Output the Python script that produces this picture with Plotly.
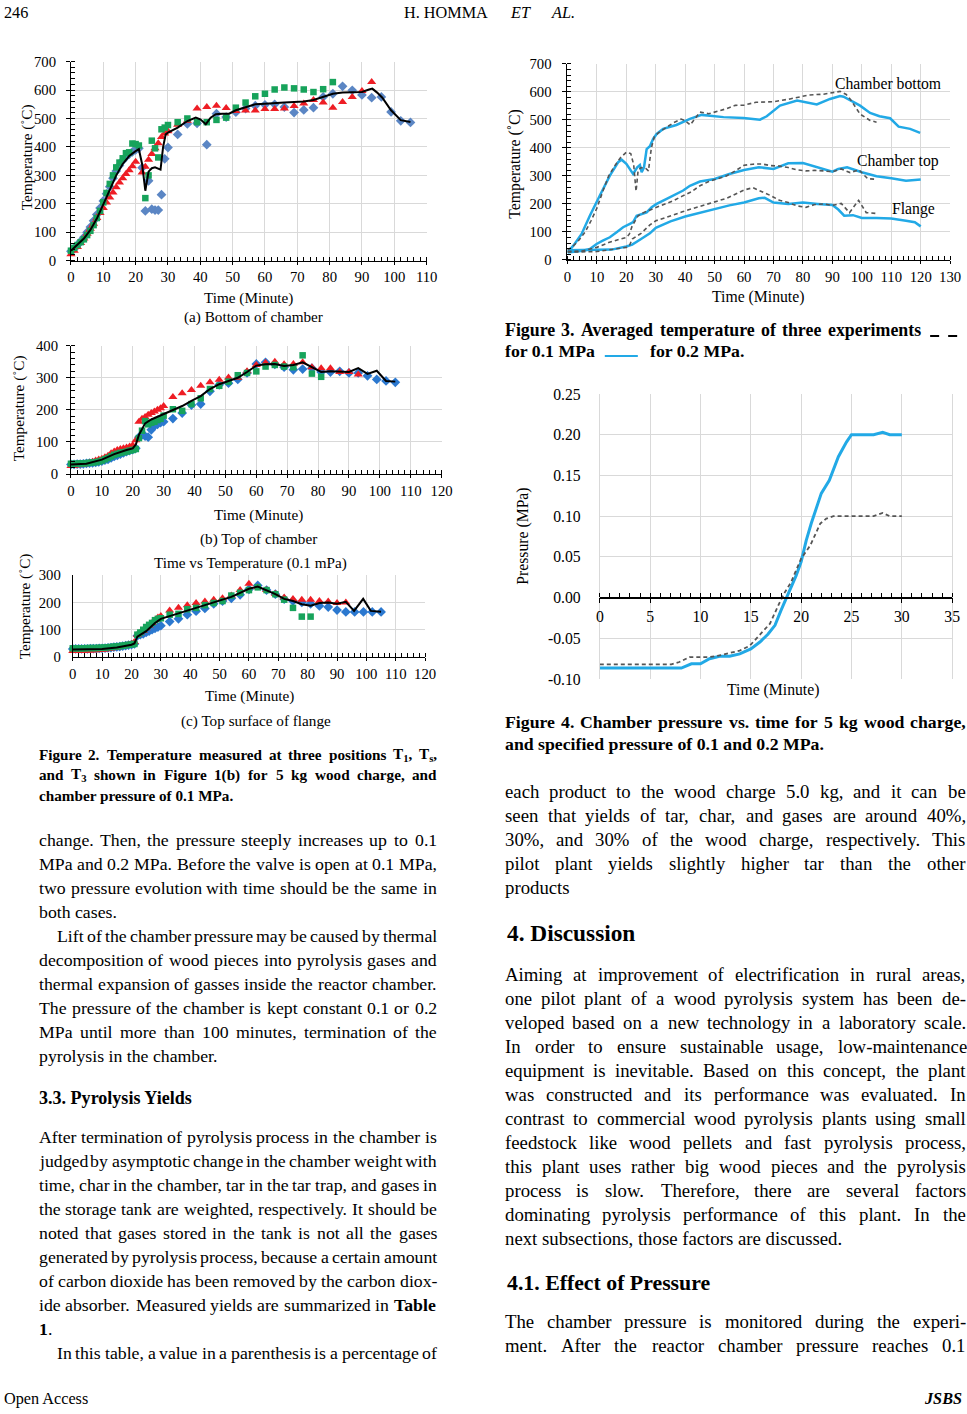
import re
import plotly.graph_objects as go

# ---------------- DATA ----------------
# Figure 2(a) bottom of chamber
a_blue_t = list(range(0, 31)) + list(range(33, 106, 3))
a_blue_v = [33,42,55,68,82,100,118,140,162,185,210,235,260,290,315,335,352,365,375,383,390,395,327,175,281,181,178,178,232,358,398,
            444,481,483,408,517,505,522,535,545,548,550,540,521,530,538,576,587,613,599,583,573,576,523,492,486]
a_red_t = list(range(0, 21)) + list(range(22, 31)) + list(range(33, 94, 3))
a_red_v = [23,35,48,62,78,95,112,130,150,168,185,205,222,240,258,275,290,305,318,332,348,
           310,330,355,375,395,413,435,447,455,
           478,492,535,540,545,537,526,528,528,533,533,535,544,553,565,556,538,558,576,597,628]
a_green_t = list(range(0, 22)) + list(range(23, 31)) + list(range(33, 82, 3))
a_green_v = [35,45,55,65,75,90,105,125,150,175,205,238,270,300,328,345,360,378,381,412,410,405,
             220,300,422,395,363,462,468,477,
             487,500,487,487,495,503,538,556,578,587,602,609,606,602,593,603,628]
a_avg_t = [0,2,4,6,8,10,12,14,16,18,20,21,22,23,24,25,26,27,27.7,28.5,29.3,30,33,36,38.6,40,41.7,43.2,44.8,46.8,48.9,51,53.5,
           57,60,63,66,69,72,75,78,81,84,87,90,92.2,93.2,94.7,96.3,99,102,105]
a_avg_v = [35,55,78,108,148,198,252,300,340,368,385,392,340,246,313,325,328,322,320,400,444,450,468,491,503,497,480,503,515,517,517,529,538,
           550,552,553,556,558,560,565,576,587,591,591,593,602,605,591,573,529,494,488]

# Figure 2(b) top of chamber
b_blue_t = list(range(0, 31)) + list(range(33, 106, 3))
b_blue_v = [30,30,31,31,32,33,34,35,36,38,40,43,46,50,55,58,62,66,70,73,76,80,
            115,122,118,115,138,150,155,160,163,
            173,190,215,218,258,278,283,295,315,343,348,342,333,325,327,330,318,318,320,315,315,306,295,290,286]
b_red_t = list(range(0, 31)) + list(range(33, 94, 3))
b_red_v = [25,26,27,28,30,32,35,38,42,45,48,52,57,65,70,75,78,80,83,86,90,105,
           163,172,178,185,190,195,200,205,212,
           240,252,262,275,286,294,301,300,320,340,347,350,342,343,348,333,330,330,318,318,310]
b_green_t = list(range(0, 31)) + list(range(33, 82, 3))
b_green_v = [32,32,32,33,33,34,35,36,37,39,42,46,50,55,60,63,66,68,70,73,75,78,
             112,135,165,155,160,163,168,172,182,
             202,197,218,236,265,275,288,308,315,320,335,340,335,333,370,313,303]
b_avg_t = [0,5,10,14,18,20,21,22,23,24,26,28,30] + list(range(33, 106, 3))
b_avg_v = [30,32,45,62,75,80,92,122,140,158,170,178,188,
           200,212,228,243,265,280,290,300,318,338,342,343,337,340,348,332,318,320,318,318,330,312,322,290,288]

# Figure 2(c) top surface of flange
c_blue_t = list(range(0, 31)) + list(range(33, 106, 3))
c_blue_v = [30,30,30,30,30,30,31,31,31,32,32,33,34,35,36,37,38,40,42,44,46,48,
            78,82,85,90,95,100,105,110,115,
            130,140,155,168,178,195,205,215,228,248,262,245,230,212,205,200,195,187,183,172,165,165,165,165,165]
c_red_t = list(range(0, 31)) + list(range(33, 94, 3))
c_red_v = [22,22,23,23,23,24,24,25,25,26,27,28,30,31,33,35,37,40,42,45,48,55,
           82,90,95,105,115,125,135,145,150,
           170,180,190,198,203,210,215,225,245,268,255,245,232,218,212,210,210,205,203,198,200]
c_green_t = list(range(0, 31)) + list(range(33, 82, 3))
c_green_v = [32,32,32,32,32,33,33,33,33,34,34,35,36,37,38,39,40,42,43,45,46,48,
             82,90,100,110,118,125,135,140,142,
             155,158,175,180,190,198,205,225,235,245,255,245,230,210,180,148,148]
c_avg_t = [0,5,10,15,18,20,21,22,25,28,30] + list(range(33, 94, 3)) + [95.8,98.9,101.5,105]
c_avg_v = [28,29,30,35,40,45,50,75,95,125,140,
           150,162,172,182,192,200,210,220,235,250,258,245,230,213,205,193,188,198,200,195,202,
           169,213,169,166]

# Figure 3 averaged temperature (0.1 MPa dashed, 0.2 MPa solid)
f3_bot02_t = [0,2,4.8,7.6,11,14.4,17.2,18.4,20,22.3,23.7,24.6,25.2,26,26.9,28,29.1,30.3,32.5,37,41.6,45.6,48.4,53,59.8,65.4,67.7,72.2,78,82.4,
              84.7,89.2,92.6,93.8,96,99.4,102.8,106,109.6,112.5,116.4,119.8]
f3_bot02_v = [27,51,93,158,230,301,349,358,343,307,331,339,313,331,396,406,432,450,468,482,504,518,515,510,507,501,513,551,569,561,
              555,575,585,583,571,551,525,513,506,476,468,454]
f3_bot01_t = [0,2,4,6,8,10,12,14,16,18,20,21.5,22.5,23.3,24,25,26.5,27.5,28.5,29.5,31,33,36,38.6,40,41.7,43.2,45,48,51,
              54,57,60,64,70,75.6,82,87,92.6,94.7,96,99.4,102.8,105]
f3_bot01_v = [35,50,72,100,140,185,245,300,335,365,385,380,340,245,320,330,328,318,400,440,455,468,490,503,497,482,503,528,522,530,
              540,552,553,563,565,575,589,592,602,591,575,521,498,492]
f3_top02_t = [0,5.3,7.6,9.9,12,14.4,16.7,18.9,21.2,22.3,23.5,25.2,26.9,28.6,30.3,33.7,37,39.3,41.6,45,
              50,55,60,65,70,75,80,85,90,92,95,100,105,110,115,120]
f3_top02_v = [27,33,39,57,69,81,99,117,129,135,158,164,170,188,200,218,236,248,265,280,
              289,307,321,331,325,345,346,331,315,325,331,313,299,292,283,287]
f3_top01_t = [0,5,10,14,18,20,21,22,23,24,26,28,30] + list(range(33, 106, 3))
f3_top01_v = [30,32,45,62,75,80,92,122,140,158,170,178,188,
              200,212,228,243,265,280,290,300,318,338,342,343,337,335,330,322,318,320,318,315,325,312,322,290,288]
f3_fl02_t = [0,5,10,15,20,22,25,28,30,35,40,45,50,55,60,65,67,70,75,80,85,90,92,94,97,100,105,110,115,118,120]
f3_fl02_v = [35,35,36,37,48,55,75,95,115,138,155,168,182,195,205,220,222,205,200,205,200,196,180,158,160,150,150,148,140,135,120]
f3_fl01_t = [0,10,20,21,22,25,28,30] + list(range(33, 94, 3)) + [95.8,98.9,101.5,105]
f3_fl01_v = [28,30,45,50,75,95,125,140,
             150,162,172,182,192,200,210,220,235,250,258,245,230,213,205,193,188,198,200,195,202,
             169,213,169,166]

# Figure 4 chamber pressure
f4_02_t = [0,8.1,9.1,10,10.9,11.9,12.9,13.9,15,15.9,16.7,17.4,18,18.5,19,19.5,20,20.5,21,21.5,22,22.8,23.7,24.5,25,27.2,28.1,28.8,30]
f4_02_v = [-0.0865,-0.0865,-0.0812,-0.0812,-0.075,-0.072,-0.072,-0.069,-0.063,-0.0545,-0.045,-0.034,-0.0156,-0.0012,0.011,0.027,0.044,
           0.070,0.091,0.109,0.128,0.144,0.173,0.191,0.200,0.200,0.203,0.200,0.200]
f4_01_t = [0,7.1,7.9,8.9,9.9,10.9,11.9,12.9,13.9,14.9,15.9,16.9,17.9,18.4,19,20,20.9,21.4,21.9,22.5,23.2,27.2,28.1,28.8,30]
f4_01_v = [-0.082,-0.082,-0.079,-0.073,-0.073,-0.073,-0.071,-0.068,-0.065,-0.059,-0.046,-0.032,-0.005,0.007,0.019,0.048,0.064,
           0.077,0.091,0.097,0.100,0.100,0.104,0.100,0.100]
f4_ytickvals = [-0.10, -0.05, 0.00, 0.05, 0.10, 0.15, 0.20, 0.25]
f4_yticktext = ["-0.10", "-0.05", "0.00", "0.05", "0.10", "0.15", "0.20", "0.25"]

# ---------------- TEXT ----------------
header_left = "246"
fig2_caption = ["Figure 2. Temperature measured at three positions T<sub>1</sub>, T<sub>s</sub>,",
                "and T<sub>3</sub> shown in Figure 1(b) for 5 kg wood charge, and",
                "chamber pressure of 0.1 MPa."]
left_par1 = ["change. Then, the pressure steeply increases up to 0.1",
             "MPa and 0.2 MPa. Before the valve is open at 0.1 MPa,",
             "two pressure evolution with time should be the same in",
             "both cases."]
left_par2 = ["Lift of the chamber pressure may be caused by thermal",
             "decomposition of wood pieces into pyrolysis gases and",
             "thermal expansion of gasses inside the reactor chamber.",
             "The pressure of the chamber is kept constant 0.1 or 0.2",
             "MPa until more than 100 minutes, termination of the",
             "pyrolysis in the chamber."]
left_head = "3.3. Pyrolysis Yields"
left_par3 = ["After termination of pyrolysis process in the chamber is",
             "judged by asymptotic change in the chamber weight with",
             "time, char in the chamber, tar in the tar trap, and gases in",
             "the storage tank are weighted, respectively. It should be",
             "noted that gases stored in the tank is not all the gases",
             "generated by pyrolysis process, because a certain amount",
             "of carbon dioxide has been removed by the carbon diox-",
             "ide absorber. Measured yields are summarized in <b>Table</b>",
             "<b>1</b>."]
left_par4 = ["In this table, a value in a parenthesis is a percentage of"]
fig3_caption = ["Figure 3. Averaged temperature of three experiments", "for 0.1 MPa", "for 0.2 MPa."]
fig4_caption = ["Figure 4. Chamber pressure vs. time for 5 kg wood charge,",
                "and specified pressure of 0.1 and 0.2 MPa."]
right_par1 = ["each product to the wood charge 5.0 kg, and it can be",
              "seen that yields of tar, char, and gases are around 40%,",
              "30%, and 30% of the wood charge, respectively. This",
              "pilot plant yields slightly higher tar than the other",
              "products"]
right_head1 = "4. Discussion"
right_par2 = ["Aiming at improvement of electrification in rural areas,",
              "one pilot plant of a wood pyrolysis system has been de-",
              "veloped based on a new technology in a laboratory scale.",
              "In order to ensure sustainable usage, low-maintenance",
              "equipment is inevitable. Based on this concept, the plant",
              "was constructed and its performance was evaluated. In",
              "contrast to commercial wood pyrolysis plants using small",
              "feedstock like wood pellets and fast pyrolysis process,",
              "this plant uses rather big wood pieces and the pyrolysis",
              "process is slow. Therefore, there are several factors",
              "dominating pyrolysis performance of this plant. In the",
              "next subsections, those factors are discussed."]
right_head2 = "4.1. Effect of Pressure"
right_par3 = ["The chamber pressure is monitored during the experi-",
              "ment. After the reactor chamber pressure reaches 0.1"]

# ---------------- PAGE GEOMETRY ----------------
W, H = 967, 1414
# measured photo mapping: photo = A + S * page
AXX, SXX = 4.8, 0.9835
AYY, SYY = 9.1, 0.9877
SF = 0.5 * (SXX + SYY)
SERIF = "Liberation Serif"


def px(x):
    return ((x - AXX) / SXX) / W


def py(y):
    return 1 - ((y - AYY) / SYY) / H


def fs(size):
    return size / SF


# Times metrics (1/1000 em) used to justify text lines
TR = {' ': 250, '!': 333, '%': 833, '(': 333, ')': 333, ',': 250, '-': 333, '.': 250, '/': 278, ':': 278, ';': 278, '?': 444}
TB = {' ': 250, '!': 333, '%': 1000, '(': 333, ')': 333, ',': 250, '-': 333, '.': 250, '/': 278, ':': 333, ';': 333, '?': 500}
for c in '0123456789':
    TR[c] = 500
    TB[c] = 500
TR.update(dict(zip('ABCDEFGHIJKLMNOPQRSTUVWXYZ', [722,667,667,722,611,556,722,722,333,389,722,611,889,722,722,556,722,667,556,611,722,722,944,722,722,611])))
TR.update(dict(zip('abcdefghijklmnopqrstuvwxyz', [444,500,444,500,444,333,500,500,278,278,500,278,778,500,500,500,500,333,389,278,500,500,722,500,500,444])))
TB.update(dict(zip('ABCDEFGHIJKLMNOPQRSTUVWXYZ', [722,667,722,722,667,611,778,778,389,500,778,667,944,722,778,611,778,722,556,667,722,722,1000,722,722,667])))
TB.update(dict(zip('abcdefghijklmnopqrstuvwxyz', [500,556,444,556,444,333,500,556,278,333,556,278,833,556,500,556,556,444,389,333,556,500,722,500,500,444])))


def word_w(word, size, bold=False):
    total = 0.0
    b = bold
    sub = False
    for tok in re.split(r'(<[^>]+>)', word):
        if tok == '<b>':
            b = True
        elif tok == '</b>':
            b = bold
        elif tok == '<sub>':
            sub = True
        elif tok == '</sub>':
            sub = False
        elif tok.startswith('<'):
            continue
        else:
            tab = TB if b else TR
            for ch in tok:
                total += tab.get(ch, 500) * (0.7 if sub else 1.0)
    return total * size / 1000.0


ANN = []


def ann(text, x, y, size, bold=False, italic=False, anchor='left', angle=0, color='black'):
    t = text
    if bold:
        t = '<b>' + t + '</b>'
    if italic:
        t = '<i>' + t + '</i>'
    ANN.append(dict(text=t, x=px(x), y=py(y), xref='paper', yref='paper', xanchor=anchor, yanchor='middle',
                    showarrow=False, textangle=angle, borderpad=0, borderwidth=0,
                    font=dict(family=SERIF, size=fs(size), color=color)))


def put_line(text, x0, x1, y, size, bold=False, justify=True):
    words = text.split(' ')
    if justify and len(words) > 1:
        ws = [word_w(w, size, bold) for w in words]
        gap = (x1 - x0 - sum(ws)) / (len(words) - 1)
        x = x0
        for w, wd in zip(words, ws):
            ann(w, x, y, size, bold)
            x += wd + gap
    else:
        ann(text, x0, y, size, bold)


def put_par(lines, x0, x1, y0, size, step, indent=0, bold=False, last_justify=False):
    for i, ln in enumerate(lines):
        last = (i == len(lines) - 1)
        xs = x0 + (indent if i == 0 else 0)
        put_line(ln, xs, x1, y0 + i * step, size, bold, justify=(not last) or last_justify)


# ---------------- FIGURE ----------------
fig = go.Figure()

BLUE_A = '#5b86c4'
BLUE_BC = '#2b78cf'
RED = '#ee1d24'
GREEN = '#17a35b'
LBLUE = '#22a9e6'
DGRAY = '#555555'


def add_pts(t, v, ax, symbol, color, size):
    fig.add_trace(go.Scatter(x=t, y=v, xaxis='x' + ax, yaxis='y' + ax, mode='markers', cliponaxis=False,
                             marker=dict(symbol=symbol, color=color, size=size, line=dict(width=0)),
                             showlegend=False, hoverinfo='skip'))


def add_line(t, v, ax, color, width, dash='solid'):
    fig.add_trace(go.Scatter(x=t, y=v, xaxis='x' + ax, yaxis='y' + ax, mode='lines', cliponaxis=False,
                             line=dict(color=color, width=width, dash=dash),
                             showlegend=False, hoverinfo='skip'))


# (a)
add_pts(a_blue_t, a_blue_v, '', 'diamond', BLUE_A, 7.5)
add_pts(a_red_t, a_red_v, '', 'triangle-up', RED, 8)
add_pts(a_green_t, a_green_v, '', 'square', GREEN, 6.5)
add_line(a_avg_t, a_avg_v, '', 'black', 2)
# (b)
add_pts(b_blue_t, b_blue_v, '2', 'diamond', BLUE_BC, 7.5)
add_pts(b_red_t, b_red_v, '2', 'triangle-up', RED, 8)
add_pts(b_green_t, b_green_v, '2', 'square', GREEN, 6.5)
add_line(b_avg_t, b_avg_v, '2', 'black', 2)
# (c)
add_pts(c_blue_t, c_blue_v, '3', 'diamond', BLUE_BC, 7.5)
add_pts(c_red_t, c_red_v, '3', 'triangle-up', RED, 8)
add_pts(c_green_t, c_green_v, '3', 'square', GREEN, 6.5)
add_line(c_avg_t, c_avg_v, '3', 'black', 2)
# Figure 3
DASH = '4px,3px'
add_line(f3_bot02_t, f3_bot02_v, '4', LBLUE, 2.5)
add_line(f3_top02_t, f3_top02_v, '4', LBLUE, 2.5)
add_line(f3_fl02_t, f3_fl02_v, '4', LBLUE, 2.5)
add_line(f3_bot01_t, f3_bot01_v, '4', DGRAY, 1.6, DASH)
add_line(f3_top01_t, f3_top01_v, '4', DGRAY, 1.6, DASH)
add_line(f3_fl01_t, f3_fl01_v, '4', DGRAY, 1.6, DASH)
# Figure 4
add_line(f4_02_t, f4_02_v, '5', LBLUE, 3)
add_line(f4_01_t, f4_01_v, '5', DGRAY, 1.8, DASH)

TICKF = dict(family=SERIF, size=fs(14.5), color='black')
GRID = '#d9d9d9'


def xaxis(l, r, rng, dtick, minor, anchor, **kw):
    d = dict(domain=[px(l), px(r)], range=rng, dtick=dtick, tick0=0, anchor=anchor, showgrid=True, gridcolor=GRID,
             zeroline=False, showline=True, linecolor='black', linewidth=1, ticks='outside', ticklen=3,
             tickcolor='black', tickfont=TICKF, fixedrange=True)
    if minor:
        d['minor'] = dict(dtick=minor, ticks='inside', ticklen=4, tickcolor='black', showgrid=False)
    d.update(kw)
    return d


def yaxis(b, t, rng, dtick, minor, anchor, **kw):
    d = dict(domain=[py(b), py(t)], range=rng, dtick=dtick, tick0=0, anchor=anchor, showgrid=True, gridcolor=GRID,
             zeroline=False, showline=True, linecolor='black', linewidth=1, ticks='outside', ticklen=4,
             tickcolor='black', tickfont=TICKF, ticklabelstandoff=6, fixedrange=True)
    if minor:
        d['minor'] = dict(dtick=minor, ticks='inside', ticklen=4, tickcolor='black', showgrid=False)
    d.update(kw)
    return d


layout_axes = dict(
    xaxis=xaxis(71.7, 427, [0, 110], 10, 2, 'y'),
    yaxis=yaxis(261.7, 62.7, [0, 700], 100, 20, 'x', ticklabelstandoff=7),
    xaxis2=xaxis(71.7, 442, [0, 120], 10, 2, 'y2'),
    yaxis2=yaxis(475, 346.7, [0, 400], 100, 20, 'x2', ticklabelstandoff=5),
    xaxis3=xaxis(73.5, 425.5, [0, 120], 10, 2, 'y3'),
    yaxis3=yaxis(658, 576, [0, 300], 100, None, 'x3', ticks='', ticklabelstandoff=8),
    xaxis4=xaxis(567.7, 950, [0, 130], 10, 2, 'y4'),
    yaxis4=yaxis(261, 65, [0, 700], 100, 20, 'x4', ticklabelstandoff=8),
    xaxis5=xaxis(600, 952, [0, 35], 5, 1, 'free', position=py(598.5), linewidth=1.5,
                 ticks='outside', ticklen=5, tickfont=dict(family=SERIF, size=fs(15.5), color='black')),
    yaxis5=yaxis(680, 395, [-0.10, 0.25], None, None, 'x5', tickvals=f4_ytickvals, ticktext=f4_yticktext,
                 showline=True, linecolor=GRID, mirror=True, ticks='', ticklabelstandoff=15,
                 tickfont=dict(family=SERIF, size=fs(15.5), color='black')),
)

# ---- chart texts ----
AX = 15
ann("Time (Minute)", 249, 299, AX, anchor='center')
ann("(a) Bottom of chamber", 254, 318, AX, anchor='center')
ann("Temperature (˚C)", 28, 158, AX, anchor='center', angle=-90)
ann("Time (Minute)", 259, 516, AX, anchor='center')
ann("(b) Top of chamber", 259, 540, AX, anchor='center')
ann("Temperature (˚C)", 20, 409, AX, anchor='center', angle=-90)
ann("Time vs Temperature (0.1 mPa)", 251, 564, AX, anchor='center')
ann("Time (Minute)", 250, 697, AX, anchor='center')
ann("(c) Top surface of flange", 257, 722, AX, anchor='center')
ann("Temperature (˚C)", 26, 607, AX, anchor='center', angle=-90)
ann("Time (Minute)", 758, 298, 15.5, anchor='center')
ann("Temperature (˚C)", 515, 165, 15.5, anchor='center', angle=-90)
ann("Chamber bottom", 888, 85, 15.5, anchor='center')
ann("Chamber top", 898, 162, 15.5, anchor='center')
ann("Flange", 913, 210, 15.5, anchor='center')
ann("Time (Minute)", 773, 691, 15.5, anchor='center')
ann("Pressure (MPa)", 523, 537, 15.5, anchor='center', angle=-90)

# ---- header / footer ----
ann(header_left, 5, 14, 16)
ann("H. HOMMA", 446, 14, 16, anchor='center')
ann("ET", 521, 14, 16, italic=True, anchor='center')
ann("AL.", 563, 14, 16, italic=True, anchor='center')
ann("Open Access", 5, 1400, 16)
ann("JSBS", 962, 1400, 16, bold=True, italic=True, anchor='right')

# ---- left column ----
LX0, LX1 = 39.5, 437
RX0, RX1 = 505, 965
put_par(fig2_caption, LX0, LX1, 755, 15, 20.5, bold=True)
put_par(left_par1, LX0, LX1, 841, 17.5, 24)
put_par(left_par2, LX0, LX1, 937, 17.5, 24, indent=18)
ann(left_head, LX0, 1099, 17.8, bold=True)
put_par(left_par3, LX0, LX1, 1138, 17.5, 24)
put_par(left_par4, LX0, LX1, 1354, 17.5, 24, indent=18, last_justify=True)

# ---- right column ----
put_line(fig3_caption[0], RX0, 920, 331, 17.6, bold=True, justify=True)
ann(fig3_caption[1], RX0, 352, 17.5, bold=True)
ann(fig3_caption[2], 650, 352, 17.5, bold=True)
put_par(fig4_caption, RX0, RX1, 723, 17.5, 22, bold=True)
put_par(right_par1, RX0, RX1, 792, 18.5, 24)
ann(right_head1, RX0 + 2, 934, 23, bold=True)
put_par(right_par2, RX0, RX1, 975, 18.5, 24)
ann(right_head2, RX0 + 2, 1284, 21.5, bold=True)
put_par(right_par3, RX0, RX1, 1322, 18.5, 24, last_justify=True)

SHAPES = [
    dict(type='line', xref='paper', yref='paper', x0=px(930), x1=px(939), y0=py(337), y1=py(337),
         line=dict(color='black', width=2)),
    dict(type='line', xref='paper', yref='paper', x0=px(948), x1=px(957), y0=py(337), y1=py(337),
         line=dict(color='black', width=2)),
    dict(type='line', xref='paper', yref='paper', x0=px(605), x1=px(638), y0=py(357), y1=py(357),
         line=dict(color=LBLUE, width=2)),
]

fig.update_layout(width=W, height=H, margin=dict(l=0, r=0, t=0, b=0), paper_bgcolor='white',
                  plot_bgcolor='white', showlegend=False, annotations=ANN, shapes=SHAPES,
                  font=dict(family=SERIF, color='black'), **layout_axes)

PAGE_JS = ("document.documentElement.style.margin='0';document.documentElement.style.padding='0';"
           "document.body.style.margin='0';document.body.style.padding='0';"
           "document.documentElement.style.overflow='hidden';")
fig.write_html("out.html", post_script=PAGE_JS, config={'displayModeBar': False})
